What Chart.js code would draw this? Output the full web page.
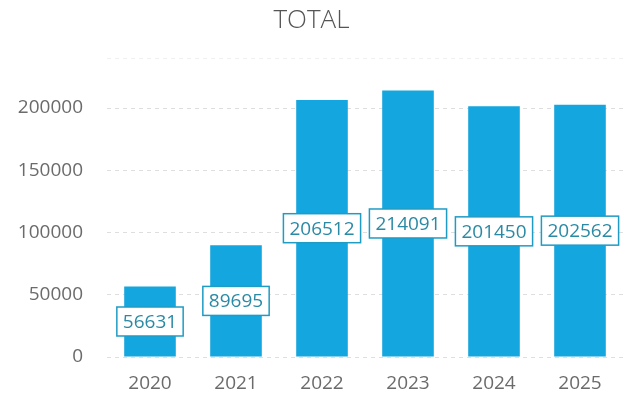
<!DOCTYPE html>
<html>
<head>
<meta charset="utf-8">
<script src="https://cdn.jsdelivr.net/npm/chart.js@4"></script>
<style>
  html, body { margin: 0; padding: 0; background: #fff; }
  #wrap { width: 629px; height: 402px; }
</style>
</head>
<body>
<div id="wrap"><canvas id="totalChart"></canvas></div>
<script>
// Data
const years = ['2020', '2021', '2022', '2023', '2024', '2025'];
const totals = [56631, 89695, 206512, 214091, 201450, 202562];
const yTicks = [0, 50000, 100000, 150000, 200000];
const yMax = 240000;

const barColor = '#14a6de';
const labelBorder = '#1f9cc4';
const labelText = '#2a8aa5';
const axisText = '#6b6b6b';

// Kotak label di tengah batang
const boxLabels = {
  id: 'boxLabels',
  afterDatasetsDraw(chart){
    const ctx = chart.ctx;
    const meta = chart.getDatasetMeta(0);
    ctx.save();
    ctx.font = '19px "Open Sans", sans-serif';
    ctx.textAlign = 'center';
    ctx.textBaseline = 'middle';
    meta.data.forEach((bar, i) => {
      const txt = String(chart.data.datasets[0].data[i]);
      const w = ctx.measureText(txt).width + 12;
      const h = 29;
      const cx = bar.x;
      const cy = (bar.y + bar.base) / 2;
      ctx.fillStyle = '#fff';
      ctx.fillRect(cx - w / 2, cy - h / 2, w, h);
      ctx.strokeStyle = labelBorder;
      ctx.lineWidth = 1.5;
      ctx.strokeRect(cx - w / 2, cy - h / 2, w, h);
      ctx.fillStyle = labelText;
      ctx.fillText(txt, cx, cy + 1);
    });
    ctx.restore();
  }
};

new Chart(document.getElementById('totalChart'), {
  type: 'bar',
  data: {
    labels: years,
    datasets: [{
      data: totals,
      backgroundColor: barColor,
      borderWidth: 0,
      barPercentage: 0.6,
      categoryPercentage: 1
    }]
  },
  options: {
    responsive: true,
    maintainAspectRatio: false,
    animation: false,
    layout: { padding: { left: 0, right: 6, top: 0, bottom: 0 } },
    plugins: {
      legend: { display: false },
      tooltip: { enabled: false },
      title: {
        display: true,
        text: 'TOTAL',
        color: '#555',
        font: { family: '"Open Sans", sans-serif', size: 26, weight: '300' },
        padding: { top: 5, bottom: 22 }
      }
    },
    scales: {
      x: {
        grid: { display: false, drawTicks: false },
        border: { display: false },
        afterFit(scale){ scale.height = 45; },
        ticks: {
          color: axisText,
          padding: 15,
          font: { family: '"Open Sans", sans-serif', size: 19 }
        }
      },
      y: {
        min: 0,
        max: yMax,
        border: { display: false, dash: [4, 4] },
        grid: {
          color: ctx => (ctx.tick && ctx.tick.value === yMax ? '#f0f0f0' : '#dedede'),
          drawTicks: false,
          lineWidth: 1
        },
        afterFit(scale){ scale.width = 107; },
        afterBuildTicks(scale){
          scale.ticks = yTicks.concat([yMax]).map(v => ({ value: v }));
        },
        ticks: {
          padding: 24,
          color: axisText,
          font: { family: '"Open Sans", sans-serif', size: 19 },
          callback: v => (yTicks.includes(v) ? v : '')
        }
      }
    }
  },
  plugins: [boxLabels]
});
</script>
</body>
</html>
